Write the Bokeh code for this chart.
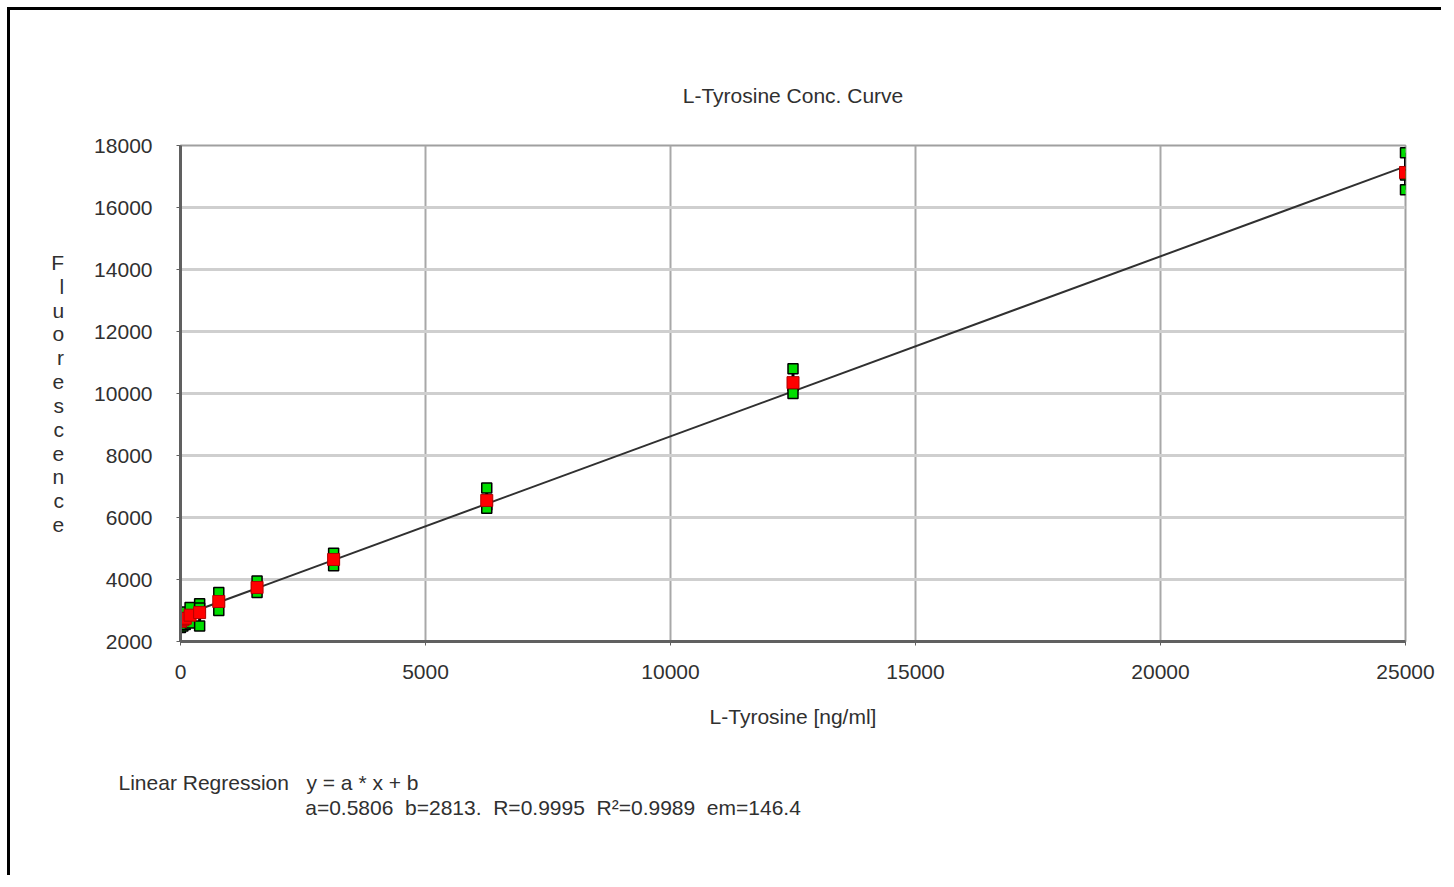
from bokeh.plotting import figure
from bokeh.models import Title, FixedTicker, Range1d
from bokeh.embed import file_html
from bokeh.resources import INLINE

# ---- data ----
conc = [0, 48.8, 97.7, 195.3, 390.6, 781.25, 1562.5, 3125, 6250, 12500, 25000]
rep1 = [2850, 2900, 2950, 3100, 3220, 3580, 3950, 4850, 6950, 10800, 17770]
rep2 = [2650, 2700, 2750, 2850, 3080, 3290, 3700, 4650, 6400, 10250, 17050]
rep3 = [2450, 2500, 2550, 2600, 2500, 3000, 3580, 4440, 6300, 10000, 16570]
fit_a = 0.5806
fit_b = 2813
x_ticks = [0, 5000, 10000, 15000, 20000, 25000]
y_ticks = [2000, 4000, 6000, 8000, 10000, 12000, 14000, 16000, 18000]

means = [(a + b + c) / 3 for a, b, c in zip(rep1, rep2, rep3)]
lows = [min(a, b, c) for a, b, c in zip(rep1, rep2, rep3)]
highs = [max(a, b, c) for a, b, c in zip(rep1, rep2, rep3)]
fit_x = [0, 25000]
fit_y = [fit_a * v + fit_b for v in fit_x]

W, H = 1434, 868
OX, OY = 10, 10  # canvas origin in picture coords

font = "Liberation Sans"
txt_col = "#303030"

p = figure(width=W, height=H, output_backend="svg", toolbar_location=None,
           x_range=Range1d(0, 25000), y_range=Range1d(2000, 18000),
           min_border_left=180 - OX, min_border_right=OX + W - 1405,
           min_border_top=145 - OY, min_border_bottom=OY + H - 641,
           background_fill_color="white", border_fill_color="white",
           outline_line_color="#a0a0a0", outline_line_width=2)
p.styles = {"border-top": "3px solid black", "border-left": "3px solid black",
            "margin-top": "7px", "margin-left": "7px"}

p.title = Title(text="L-Tyrosine Conc. Curve", align="center",
                text_font=font, text_font_size="21px",
                text_font_style="normal", text_color=txt_col, standoff=78)

p.xaxis.ticker = FixedTicker(ticks=x_ticks)
p.yaxis.ticker = FixedTicker(ticks=y_ticks)
for ax in (p.xaxis[0], p.yaxis[0]):
    ax.axis_line_color = "#606060"
    ax.axis_line_width = 3
    ax.major_tick_line_color = "#606060"
    ax.major_tick_out = 4
    ax.major_tick_in = 0
    ax.minor_tick_line_color = None
    ax.major_label_text_font = font
    ax.major_label_text_font_size = "21px"
    ax.major_label_text_color = txt_col
    ax.major_label_standoff = 24
    ax.axis_label_text_font = font
    ax.axis_label_text_font_size = "21px"
    ax.axis_label_text_font_style = "normal"
    ax.axis_label_text_color = txt_col
p.xaxis.major_label_standoff = 19
p.xaxis.axis_label = "L-Tyrosine [ng/ml]"
p.xaxis.axis_label_standoff = 23

p.yaxis.axis_label = "\n".join("Fluorescence")
p.yaxis.axis_label_orientation = "horizontal"
p.yaxis.axis_label_text_line_height = 1.035
p.yaxis.axis_label_standoff = 27

p.xgrid.grid_line_color = "#a8a8a8"
p.xgrid.grid_line_width = 2
p.ygrid.grid_line_color = "#cfcfcf"
p.ygrid.grid_line_width = 3

# regression line
p.line(fit_x, fit_y, line_color="#303030", line_width=2)

# error range
p.segment(conc, lows, conc, highs, line_color="black", line_width=3)
# replicates
for r in (rep1, rep2, rep3):
    p.scatter(conc, r, marker="square", size=10, fill_color="#00dd00",
              line_color="black", line_width=1.5)
# means
p.scatter(conc, means, marker="square", size=12, fill_color="#ff0000",
          line_color="#b00000", line_width=1)

nb = "\u00a0"
line1 = "Linear Regression" + nb * 3 + "y = a * x + b"
line2 = nb * 32 + "a=0.5806" + nb * 2 + "b=2813." + nb * 2 + "R=0.9995" + \
        nb * 2 + "R\u00b2=0.9989" + nb * 2 + "em=146.4"
p.add_layout(Title(text=line1 + "\n" + line2, align="left", offset=118 - 180,
                   text_font=font, text_font_size="21px",
                   text_font_style="normal", text_color=txt_col,
                   text_line_height=1.13, standoff=76), "below")

open("out.html", "w").write(file_html(p, INLINE))
